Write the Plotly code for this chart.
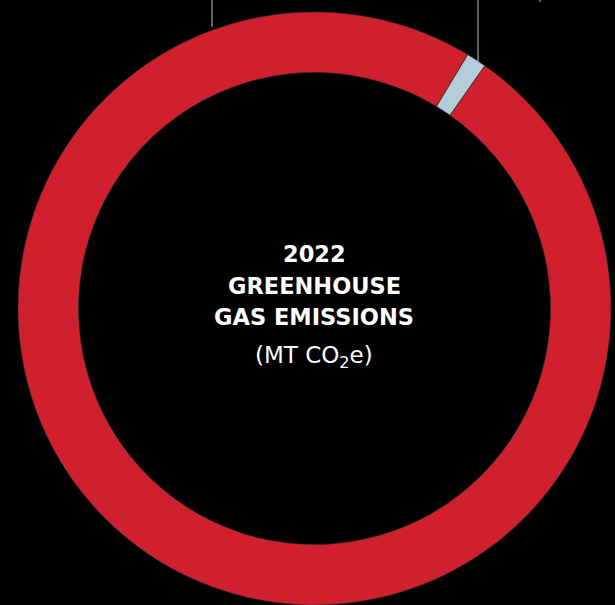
import plotly.graph_objects as go

# Data
categories = ["Minor source", "Main source"]
values = [1.1, 98.9]
colors = ["#B4CCD9", "#D0202E"]

title_lines = ["2022", "GREENHOUSE", "GAS EMISSIONS"]
unit_label = "(MT CO<sub>2</sub>e)"

W, H = 615, 605

fig = go.Figure()
fig.add_trace(go.Pie(
    labels=categories,
    values=values,
    hole=0.796,
    sort=False,
    direction="clockwise",
    rotation=31.1,
    textinfo="none",
    hoverinfo="label+percent",
    marker=dict(colors=colors, line=dict(color="#2a2a2a", width=0.6)),
    domain=dict(x=[(314.5 - 297) / W, (314.5 + 297) / W], y=[0, 1 - 12 / H]),
    showlegend=False,
))

# center text
line_y = [254, 286, 317]
annotations = []
for txt, yp in zip(title_lines, line_y):
    annotations.append(dict(
        text=f"<b>{txt}</b>", x=314 / W, y=1 - yp / H, xref="paper", yref="paper",
        xanchor="center", yanchor="middle", showarrow=False,
        font=dict(family="DejaVu Sans", size=22.5, color="white"),
    ))
annotations.append(dict(
    text=unit_label, x=314 / W, y=1 - 357 / H, xref="paper", yref="paper",
    xanchor="center", yanchor="middle", showarrow=False,
    font=dict(family="DejaVu Sans", size=23, color="white"),
))

# leader lines (cropped labels)
shapes = []
for xp, yend in [(212, 27), (478, 62), (540, 2)]:
    shapes.append(dict(
        type="line", xref="paper", yref="paper",
        x0=xp / W, x1=xp / W, y0=1, y1=1 - yend / H,
        line=dict(color="#bfbfbf", width=1),
    ))

fig.update_layout(
    width=W, height=H,
    margin=dict(l=0, r=0, t=0, b=0),
    paper_bgcolor="black", plot_bgcolor="black",
    annotations=annotations, shapes=shapes,
)

fig.write_html(
    "out.html",
    config={"displayModeBar": False},
    post_script="document.body.style.margin='0';document.body.style.background='black';document.body.style.overflow='hidden';",
)
